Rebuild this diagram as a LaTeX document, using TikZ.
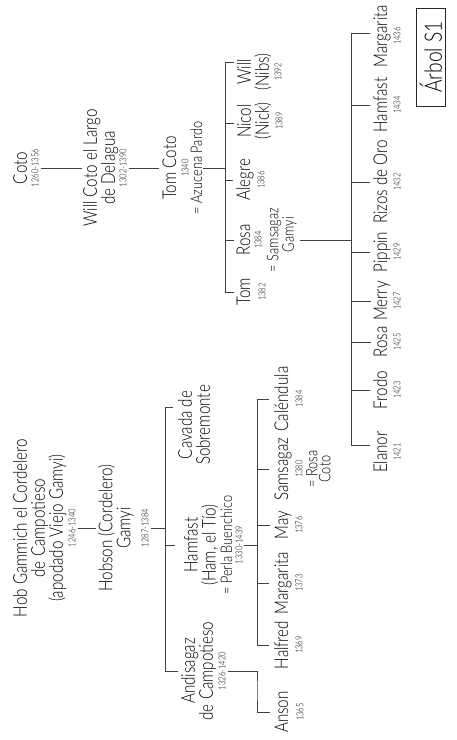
\documentclass[tikz,border=0pt]{standalone}
\usepackage{fontspec}
\setmainfont{Lato}[FakeStretch=0.8,UprightFont={* Light}]
\begin{document}
\begin{tikzpicture}[x=1pt,y=-1pt,
  every node/.style={rotate=90,inner sep=0pt,outer sep=0pt,text=black},
  nm/.style={font=\fontsize{19}{18}\selectfont,align=center},
  sp/.style={font=\fontsize{16}{13}\selectfont,align=center},
  dt/.style={font=\fontsize{9.5}{9.5}\selectfont},
  ln/.style={line width=0.8pt,draw=black!75},
  boxed/.style={draw=black!85,line width=0.9pt,font=\fontsize{24}{24}\selectfont,
    minimum width=98pt,minimum height=29pt}]
\useasboundingbox (0,0) rectangle (457,740);

% ---------------- Coto branch ----------------
\node[nm,anchor=base] (coto) at (27,168) {Coto};
\node[dt] (cotoD) at (35,168) {1260-1356};
\node[nm,anchor=north] (will) at (83,168) {Will Coto el Largo\\de Delagua};
\node[dt] (willD) at (123,168) {1302-1390};
\node[nm,anchor=base] (tomc) at (176,168) {Tom Coto};
\node[dt] (tomcD) at (185,168) {1340};
\node[sp,anchor=base] (tomcS) at (202,168) {= Azucena Pardo};
\coordinate (J1) at (225,168);
\draw[ln] ([xshift=3pt]cotoD.south) -- ([xshift=-1pt]will.north);
\draw[ln] ([xshift=3pt]willD.south) -- ([xshift=-3pt]tomc.north);
\draw[ln] ([xshift=1pt]tomcS.south) -- (J1);

\node[nm,anchor=base] (tomj) at (250,292) {Tom};
\node[dt] (tomjD) at (262,292) {1382};
\node[nm,anchor=base] (rosa) at (250,240) {Rosa};
\node[dt] (rosaD) at (258,240) {1384};
\node[sp,anchor=north] (rosaS) at (267,240) {= Samsagaz\\\hphantom{= }Gamyi};
\node[nm,anchor=base] (alegre) at (250,180) {Alegre};
\node[dt] (alegreD) at (261,180) {1386};
\node[nm,anchor=north] (nicol) at (237,121) {Nicol\\(Nick)};
\node[dt] (nicolD) at (279,121) {1389};
\node[nm,anchor=north] (willn) at (237,72) {Will\\(Nibs)};
\node[dt] (willnD) at (278,72) {1392};
\draw[ln] ([xshift=-3pt]tomj.north) -| (J1);
\draw[ln] ([xshift=-3pt]rosa.north) -| (J1);
\draw[ln] ([xshift=-3pt]alegre.north) -| (J1);
\draw[ln] ([xshift=-3pt,yshift=-2pt]nicol.north) -| (J1);
\draw[ln] ([xshift=-3pt,yshift=10pt]willn.north) -| (J1);

% ---------------- Samsagaz's children ----------------
\coordinate (J2) at (351,240);
\draw[ln] ([xshift=3pt]rosaS.south) -- (J2);
\node[nm,anchor=base] (elanor) at (387,452) {Elanor};
\node[dt] (elanorD) at (397,452) {1421};
\node[nm,anchor=base] (frodo) at (387,390) {Frodo};
\node[dt] (frodoD) at (397,390) {1423};
\node[nm,anchor=base] (rosab) at (387,342) {Rosa};
\node[dt] (rosabD) at (397,342) {1425};
\node[nm,anchor=base] (merry) at (387,301) {Merry};
\node[dt] (merryD) at (397,301) {1427};
\node[nm,anchor=base] (pippin) at (387,252) {Pippin};
\node[dt] (pippinD) at (397,252) {1429};
\node[nm,anchor=base] (rizos) at (387,182) {Rizos de Oro};
\node[dt] (rizosD) at (397,182) {1432};
\node[nm,anchor=base] (hamfb) at (387,105) {Hamfast};
\node[dt] (hamfbD) at (397,105) {1434};
\node[nm,anchor=base] (margb) at (387,36) {Margarita};
\node[dt] (margbD) at (397,36) {1436};
\draw[ln] ([xshift=-3pt,yshift=7pt]elanor.north) -| (J2);
\foreach \c in {frodo,rosab,merry,pippin,rizos,hamfb}
  {\draw[ln] ([xshift=-3pt]\c.north) -| (J2);}
\draw[ln] ([xshift=-3pt,yshift=3pt]margb.north) -| (J2);

\node[boxed] (arbol) at (431,57) {Árbol S1};

% ---------------- Gamyi branch ----------------
\node[nm,anchor=north] (hob) at (13,528) {Hob Gammich el Cordelero\\de Campotieso\\(apodado Viejo Gamyi)};
\node[dt] (hobD) at (72,528) {1246-1340};
\node[nm,anchor=north] (hobson) at (98,528) {Hobson (Cordelero)\\Gamyi};
\node[dt] (hobsonD) at (145,528) {1287-1384};
\coordinate (J3) at (165,528);
\draw[ln] ([xshift=3pt]hobD.south) -- ([xshift=-2pt]hobson.north);
\draw[ln] ([xshift=3pt]hobsonD.south) -- (J3);

\node[nm,anchor=north] (cavada) at (178,425) {Cavada de\\Sobremonte};
\node[nm,anchor=north] (hamfast) at (184,545) {Hamfast\\(Ham, el Tío)};
\node[sp,anchor=base] (hamS) at (232,545) {= Perla Buenchico};
\node[dt] (hamD) at (239,545) {1330-1439};
\node[nm,anchor=north] (andis) at (181,671) {Andisagaz\\de Campotieso};
\node[dt] (andD) at (222,671) {1326-1420};
\draw[ln] ([xshift=-5pt,yshift=18pt]cavada.north) -| (J3);
\draw[ln] ([xshift=-9pt]hamfast.north) -| (J3);
\draw[ln] ([xshift=-3pt]andis.north) -| (J3);

\coordinate (J4) at (257,545);
\draw[ln] ([xshift=2pt]hamD.south) -- (J4);
\node[nm,anchor=base] (halfred) at (288,645) {Halfred};
\node[dt] (halfredD) at (299,645) {1369};
\node[nm,anchor=base] (marga) at (288,583) {Margarita};
\node[dt] (margaD) at (299,583) {1373};
\node[nm,anchor=base] (may) at (288,525) {May};
\node[dt] (mayD) at (299,525) {1376};
\node[nm,anchor=base] (sam) at (288,469) {Samsagaz};
\node[dt] (samD) at (299,469) {1380};
\node[sp,anchor=north] (samS) at (306,469) {= Rosa\\Coto};
\node[nm,anchor=base] (cal) at (288,399) {Caléndula};
\node[dt] (calD) at (299,399) {1384};
\foreach \c in {halfred,marga,may,sam,cal}
  {\draw[ln] ([xshift=-5pt]\c.north) -| (J4);}

\coordinate (JA) at (257,690);
\node[nm,anchor=base] (anson) at (288,712) {Anson};
\node[dt] (ansonD) at (300,712) {1365};
\draw[ln] ([xshift=3pt]andD.south) -| (JA) |- ([xshift=-5pt]anson.north);
\end{tikzpicture}
\end{document}
